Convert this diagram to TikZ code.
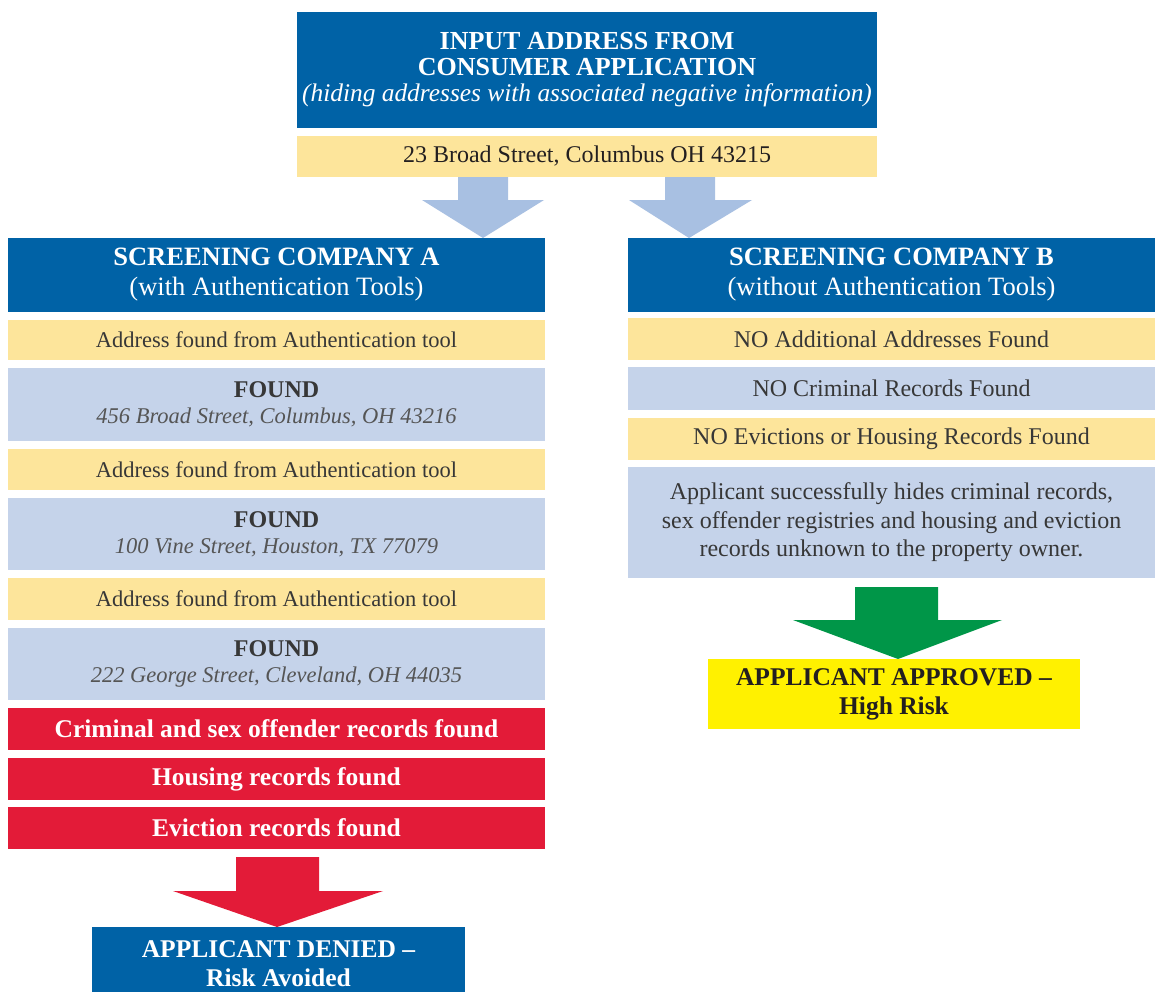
\documentclass[tikz,border=0pt]{standalone}
\usepackage{fontspec}
\setmainfont{Liberation Serif}
\usetikzlibrary{calc}
\definecolor{hdrblue}{RGB}{0,98,166}
\definecolor{paleyel}{RGB}{253,229,155}
\definecolor{bluegray}{RGB}{197,211,234}
\definecolor{arrowblue}{RGB}{168,192,226}
\definecolor{recred}{RGB}{227,27,56}
\definecolor{okgreen}{RGB}{0,150,72}
\definecolor{brightyel}{RGB}{255,241,0}
\definecolor{txtgray}{RGB}{55,55,55}
\definecolor{addrgray}{RGB}{85,85,85}
\definecolor{darktxt}{RGB}{35,31,32}
\begin{document}
\begin{tikzpicture}[x=1pt,y=-1pt,
  box/.style={rectangle, inner sep=0pt, outer sep=0pt, align=center, anchor=north west},
  hdr/.style={box, fill=hdrblue, text=white},
  yelrow/.style={box, fill=paleyel, text=txtgray},
  grayrow/.style={box, fill=bluegray, text=txtgray},
  redrow/.style={box, fill=recred, text=white, font=\fontsize{25.5}{30}\selectfont\bfseries},
  lcol/.style={minimum width=537pt},
  rcol/.style={minimum width=527pt},
  lrowfont/.style={font=\fontsize{22.5}{26}\selectfont},
  rrowfont/.style={font=\fontsize{24}{28.5}\selectfont},
  compfont/.style={font=\fontsize{26.5}{30}\selectfont},
  foundfont/.style={font=\fontsize{22.5}{26}\selectfont},
  outfont/.style={font=\fontsize{25.5}{29}\selectfont\bfseries}
]
\useasboundingbox[fill=white] (0,0) rectangle (1155,991);

% top
\node[hdr, minimum width=580pt, minimum height=116pt, font=\fontsize{26}{26}\selectfont] (top) at (297,12)
  {{\bfseries INPUT ADDRESS FROM}\\{\bfseries CONSUMER APPLICATION}\\{\fontsize{25.4}{24}\selectfont\itshape (hiding addresses with associated negative information)}};
\node[yelrow, text=darktxt, minimum width=580pt, minimum height=41pt, font=\fontsize{24}{28}\selectfont] (addr) at (297,136)
  {23 Broad Street, Columbus OH 43215};

% left column
\node[hdr, lcol, minimum height=74pt, compfont] (compA) at (8,238)
  {{\bfseries SCREENING COMPANY A}\\(with Authentication Tools)};
\node[yelrow, lcol, minimum height=40pt, lrowfont] (a1) at (8,320) {Address found from Authentication tool};
\node[grayrow, lcol, minimum height=73pt, foundfont] (f1) at (8,368)
  {{\fontsize{24}{26}\selectfont\bfseries FOUND}\\{\color{addrgray}\itshape 456 Broad Street, Columbus, OH 43216}};
\node[yelrow, lcol, minimum height=41pt, lrowfont] (a2) at (8,449) {Address found from Authentication tool};
\node[grayrow, lcol, minimum height=72pt, foundfont] (f2) at (8,498)
  {{\fontsize{24}{26}\selectfont\bfseries FOUND}\\{\color{addrgray}\itshape 100 Vine Street, Houston, TX 77079}};
\node[yelrow, lcol, minimum height=42pt, lrowfont] (a3) at (8,578) {Address found from Authentication tool};
\node[grayrow, lcol, minimum height=72pt, foundfont] (f3) at (8,628)
  {{\fontsize{24}{26}\selectfont\bfseries FOUND}\\{\color{addrgray}\itshape 222 George Street, Cleveland, OH 44035}};
\node[redrow, lcol, minimum height=42pt] (r1) at (8,708) {Criminal and sex offender records found};
\node[redrow, lcol, minimum height=42pt] (r2) at (8,758) {Housing records found};
\node[redrow, lcol, minimum height=42pt] (r3) at (8,807) {Eviction records found};
\node[hdr, minimum width=373pt, minimum height=74pt, outfont] (denied) at (92,927)
  {APPLICANT DENIED --\\Risk Avoided};

% right column
\node[hdr, rcol, minimum height=74pt, compfont] (compB) at (628,238)
  {{\bfseries SCREENING COMPANY B}\\(without Authentication Tools)};
\node[yelrow, rcol, minimum height=42pt, rrowfont] (b1) at (628,318) {NO Additional Addresses Found};
\node[grayrow, rcol, minimum height=43pt, rrowfont] (b2) at (628,367) {NO Criminal Records Found};
\node[yelrow, rcol, minimum height=42pt, rrowfont] (b3) at (628,418) {NO Evictions or Housing Records Found};
\node[grayrow, rcol, minimum height=111pt, rrowfont] (b4) at (628,467)
  {Applicant successfully hides criminal records,\\sex offender registries and housing and eviction\\records unknown to the property owner.};
\node[box, fill=brightyel, text=darktxt, minimum width=372pt, minimum height=70pt, outfont] (approved) at (708,659)
  {APPLICANT APPROVED --\\High Risk};

% block arrows
\fill[arrowblue] (458,0 |- addr.south) -- (508,0 |- addr.south) -- (508,200) -- (544,200)
  -- (483,0 |- compA.north) -- (422,200) -- (458,200) -- cycle;
\fill[arrowblue] (665,0 |- addr.south) -- (715,0 |- addr.south) -- (715,200) -- (752,200)
  -- (689,0 |- compB.north) -- (629,200) -- (665,200) -- cycle;
\fill[recred] (236,857) -- (319,857) -- (319,891) -- (383,891)
  -- (277,0 |- denied.north) -- (173,891) -- (236,891) -- cycle;
\fill[okgreen] (855,587) -- (938,587) -- (938,620) -- (1002,620)
  -- (898,0 |- approved.north) -- (793,620) -- (855,620) -- cycle;
\end{tikzpicture}
\end{document}
